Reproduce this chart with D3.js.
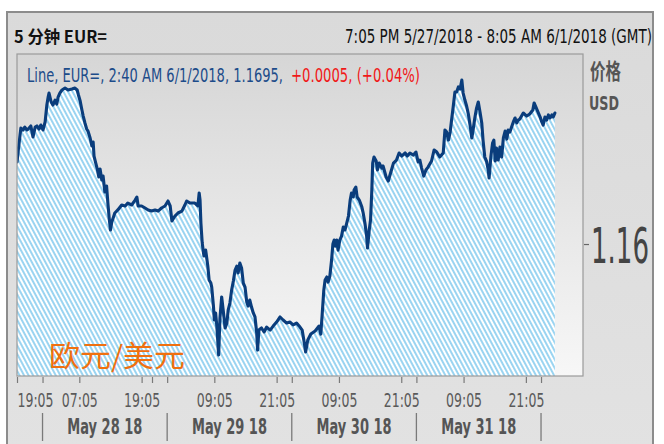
<!DOCTYPE html>
<html><head><meta charset="utf-8">
<script src="https://cdn.jsdelivr.net/npm/d3@7"></script>
<style>
html,body{margin:0;padding:0;background:#fff;}
svg{display:block;}
</style></head><body>
<svg id="c" width="664" height="444"></svg>
<script>
// ---------- data ----------
const startTime = "2018-05-27T19:05:00Z";
const endTime   = "2018-06-01T08:05:00Z";
const barMinutes = 5;
// 5-minute bar number since start
const barIndex = [0,3,7,9,14,18,23,28,32,37,
42,46,51,55,60,65,69,72,74,79,
83,88,92,95,99,104,111,118,127,134,
139,142,146,150,153,157,161,164,169,173,
176,178,182,186,189,192,196,199,203,207,
210,213,216,219,223,226,233,242,250,256,
265,273,277,280,288,296,303,311,319,326,
334,342,349,354,358,365,372,381,388,392,
400,411,418,421,423,425,428,432,436,441,
444,448,450,454,456,459,462,466,469,473,
477,481,485,488,492,496,500,504,508,511,
515,519,523,527,531,534,538,542,546,550,
554,556,559,565,571,577,585,592,600,608,
615,623,631,638,646,654,659,664,667,672,
679,689,698,702,705,709,712,716,719,723,
727,730,733,736,739,742,746,750,754,758,
762,766,770,773,777,779,783,786,791,797,
800,804,808,810,814,817,820,822,825,830,
833,837,843,846,853,858,864,870,877,883,
889,897,902,908,916,922,927,931,935,940,
945,950,958,964,970,977,985,989,993,997,
1001,1004,1008,1012,1016,1020,1024,1028,1031,1035,
1039,1043,1047,1051,1054,1058,1062,1066,1070,1074,
1077,1081,1085,1089,1091,1095,1099,1102,1105,1108,
1112,1116,1120,1124,1128,1132,1135,1139,1143,1147,
1151,1155,1158,1162,1166,1170,1178,1185,1192,1195,
1199,1205,1209,1212,1216,1220,1224,1228,1232,1236,
1239,1243];
const price = [1.16595,1.16682,1.16790,1.16841,1.16827,1.16848,1.16827,1.16841,1.16856,1.16776,
1.16848,1.16856,1.16834,1.16863,1.16827,1.16885,1.17008,1.17066,1.17095,1.17030,
1.17008,1.17044,1.17015,1.17066,1.17095,1.17117,1.17131,1.17117,1.17124,1.17131,
1.17117,1.17081,1.17037,1.16972,1.16928,1.16878,1.16834,1.16819,1.16769,1.16711,
1.16740,1.16638,1.16587,1.16537,1.16486,1.16544,1.16464,1.16493,1.16377,1.16421,
1.16297,1.16189,1.16102,1.16160,1.16196,1.16225,1.16247,1.16283,1.16276,1.16297,
1.16283,1.16319,1.16341,1.16276,1.16276,1.16261,1.16247,1.16239,1.16247,1.16239,
1.16261,1.16276,1.16312,1.16276,1.16167,1.16203,1.16225,1.16239,1.16283,1.16312,
1.16297,1.16297,1.16276,1.16370,1.16319,1.16152,1.16007,1.15913,1.15956,1.15840,
1.15739,1.15717,1.15688,1.15550,1.15449,1.15500,1.15398,1.15195,1.15463,1.15616,
1.15507,1.15391,1.15427,1.15521,1.15572,1.15666,1.15732,1.15811,1.15840,1.15790,
1.15862,1.15826,1.15717,1.15688,1.15579,1.15550,1.15594,1.15543,1.15500,1.15471,
1.15355,1.15231,1.15376,1.15391,1.15362,1.15398,1.15376,1.15405,1.15434,1.15471,
1.15449,1.15427,1.15434,1.15413,1.15427,1.15398,1.15376,1.15282,1.15217,1.15304,
1.15347,1.15369,1.15405,1.15347,1.15478,1.15666,1.15739,1.15761,1.15724,1.15768,
1.15884,1.16000,1.16029,1.15985,1.16029,1.15956,1.16029,1.16058,1.16123,1.16102,
1.16152,1.16203,1.16319,1.16370,1.16341,1.16392,1.16413,1.16341,1.16319,1.16268,
1.16225,1.16152,1.16058,1.15971,1.16102,1.16174,1.16392,1.16587,1.16631,1.16602,
1.16537,1.16587,1.16551,1.16566,1.16486,1.16457,1.16522,1.16587,1.16609,1.16660,
1.16638,1.16660,1.16638,1.16660,1.16645,1.16667,1.16595,1.16609,1.16551,1.16493,
1.16537,1.16558,1.16602,1.16682,1.16667,1.16631,1.16660,1.16827,1.16812,1.16754,
1.16812,1.16892,1.16994,1.17102,1.17102,1.17139,1.17124,1.17189,1.17095,1.17044,
1.17001,1.16943,1.16863,1.16769,1.16827,1.16914,1.16986,1.17030,1.16957,1.16878,
1.16754,1.16631,1.16602,1.16537,1.16479,1.16631,1.16732,1.16754,1.16602,1.16696,
1.16609,1.16703,1.16631,1.16769,1.16819,1.16761,1.16827,1.16812,1.16848,1.16885,
1.16914,1.16878,1.16899,1.16906,1.16928,1.16950,1.16928,1.16943,1.16972,1.17023,
1.16994,1.16950,1.16921,1.16892,1.16863,1.16921,1.16899,1.16936,1.16914,1.16936,
1.16921,1.16950];

const hourTicks = ["2018-05-27T19:05Z","2018-05-28T07:05Z","2018-05-28T19:05Z","2018-05-28T21:05Z",
  "2018-05-29T09:05Z","2018-05-29T21:05Z","2018-05-30T09:05Z","2018-05-30T21:05Z",
  "2018-05-31T09:05Z","2018-05-31T21:05Z"];
const hourTickLabels = ["19:05","07:05","19:05","","09:05","21:05","09:05","21:05","09:05","21:05"];
const dayBreaks = ["2018-05-28T00:00Z","2018-05-29T00:00Z","2018-05-30T00:00Z","2018-05-31T00:00Z","2018-06-01T00:00Z"];
const dayLabels = ["May 28 18","May 29 18","May 30 18","May 31 18"];
const yTicks = [1.16];
const yTickLabels = ["1.16"];
const yDomain = [1.15043, 1.17378];

const headerLeft = "5 分钟 EUR=";
const headerRight = "7:05 PM 5/27/2018 - 8:05 AM 6/1/2018 (GMT)";
const legendMain = "Line, EUR=, 2:40 AM 6/1/2018, 1.1695,";
const legendChange = "+0.0005, (+0.04%)";
const unitLines = ["价格", "USD"];
const pairName = "欧元/美元";

// ---------- layout ----------
const W = 664, H = 444;
const plot = {l:17, t:54, r:583, b:376};
const narrow = "'Liberation Sans Narrow','DejaVu Sans Condensed','Liberation Sans',Arial,sans-serif";
const cjk = "'Noto Sans CJK SC','Liberation Sans',sans-serif";

const svg = d3.select("#c");
const defs = svg.append("defs");

const pg = defs.append("linearGradient").attr("id","panelGrad").attr("x1",0).attr("y1",0).attr("x2",0).attr("y2",1);
pg.append("stop").attr("offset","0%").attr("stop-color","#dadada");
pg.append("stop").attr("offset","100%").attr("stop-color","#e2e2e2");

const bg = defs.append("linearGradient").attr("id","plotGrad").attr("x1",0).attr("y1",0).attr("x2",0).attr("y2",1);
bg.append("stop").attr("offset","0%").attr("stop-color","#d6d6d6");
bg.append("stop").attr("offset","100%").attr("stop-color","#f7f7f7");

const hatch = defs.append("pattern").attr("id","hatch").attr("patternUnits","userSpaceOnUse")
  .attr("width",4).attr("height",4).attr("patternTransform","rotate(-28)");
hatch.append("rect").attr("width",4).attr("height",4).attr("fill","#ffffff");
hatch.append("rect").attr("x",0).attr("width",2).attr("height",4).attr("fill","#9ad4f1");

defs.append("clipPath").attr("id","clip").append("rect")
  .attr("x",plot.l).attr("y",plot.t).attr("width",plot.r-plot.l).attr("height",plot.b-plot.t);

// panel
svg.append("rect").attr("x",7).attr("y",12).attr("width",646).attr("height",440)
  .attr("fill","url(#panelGrad)").attr("stroke","#8c8c8c").attr("stroke-width",2);

// header
svg.append("text").attr("x",14).attr("y",43).attr("font-family",cjk).attr("font-weight","bold")
  .attr("font-size",17).attr("fill","#111").attr("textLength",93).attr("lengthAdjust","spacingAndGlyphs")
  .text(headerLeft);
svg.append("text").attr("x",345).attr("y",43).attr("font-family",narrow)
  .attr("font-size",19).attr("fill","#111").attr("textLength",307).attr("lengthAdjust","spacingAndGlyphs")
  .text(headerRight);

// plot background
svg.append("rect").attr("x",plot.l).attr("y",plot.t).attr("width",plot.r-plot.l).attr("height",plot.b-plot.t)
  .attr("fill","url(#plotGrad)");

// scales
const parse = s => new Date(s);
const t0 = parse(startTime), t1 = parse(endTime);
const x = d3.scaleUtc().domain([t0,t1]).range([plot.l, plot.r]);
const y = d3.scaleLinear().domain(yDomain).range([plot.b, plot.t]);

const n = Math.min(barIndex.length, price.length);
const data = d3.range(n).map(i => ({t: d3.utcMinute.offset(t0, barIndex[i]*barMinutes), v: price[i]}));

const gPlot = svg.append("g").attr("clip-path","url(#clip)");
gPlot.append("path").datum(data)
  .attr("d", d3.area().x(d=>x(d.t)).y0(plot.b).y1(d=>y(d.v)))
  .attr("fill","url(#hatch)");
gPlot.append("path").datum(data)
  .attr("d", d3.line().x(d=>x(d.t)).y(d=>y(d.v)))
  .attr("fill","none").attr("stroke","#0a3d7c").attr("stroke-width",3.1)
  .attr("stroke-linejoin","round").attr("stroke-linecap","round");

// plot border
svg.append("rect").attr("x",plot.l).attr("y",plot.t).attr("width",plot.r-plot.l).attr("height",plot.b-plot.t)
  .attr("fill","none").attr("stroke","#9a9a9a").attr("stroke-width",1.2);

// legend
svg.append("text").attr("x",27).attr("y",82).attr("font-family",narrow).attr("font-size",20)
  .attr("fill","#1d4c8a").attr("textLength",256).attr("lengthAdjust","spacingAndGlyphs").text(legendMain);
svg.append("text").attr("x",291).attr("y",82).attr("font-family",narrow).attr("font-size",20)
  .attr("fill","#f01818").attr("textLength",129).attr("lengthAdjust","spacingAndGlyphs").text(legendChange);

// pair name
svg.append("text").attr("x",49).attr("y",367).attr("font-family",cjk).attr("font-size",29)
  .attr("fill","#f0700f").attr("textLength",136).attr("lengthAdjust","spacingAndGlyphs").text(pairName);

// x axis (hour ticks + day ticks)
const hourDates = hourTicks.map(parse);
const dayDates = dayBreaks.map(parse);
const allTicks = hourDates.concat(dayDates);
const labelMap = new Map(hourDates.map((d,i)=>[+d, hourTickLabels[i]]));
const gx = svg.append("g").attr("transform",`translate(0,${plot.b+1})`)
  .call(d3.axisBottom(x).tickValues(allTicks).tickSize(6).tickSizeOuter(0)
    .tickFormat(d => labelMap.get(+d) || ""));
gx.select(".domain").remove();
gx.selectAll(".tick line").attr("stroke","#7a7a7a").attr("stroke-width",1.2);
gx.selectAll(".tick text").each(function(d){
  const s = labelMap.get(+d) || "";
  const t = d3.select(this);
  if(!s){ t.remove(); return; }
  t.attr("y", 30).attr("dy", 0).attr("font-family", narrow).attr("font-size", 20)
   .attr("fill","#5a5a5a").attr("textLength",36).attr("lengthAdjust","spacingAndGlyphs")
   .attr("text-anchor", (+d === +t0) ? "start" : "middle");
});

// day separators & labels
svg.append("g").selectAll("line").data(dayDates).join("line")
  .attr("x1",d=>x(d)).attr("x2",d=>x(d)).attr("y1",413).attr("y2",441)
  .attr("stroke","#7a7a7a").attr("stroke-width",1.3);
svg.append("g").selectAll("text").data(dayLabels).join("text")
  .attr("x",(d,i)=> (x(dayDates[i]) + x(dayDates[i+1]))/2).attr("y",434)
  .attr("text-anchor","middle").attr("font-family",narrow).attr("font-weight","bold")
  .attr("font-size",21).attr("fill","#555").attr("textLength",75).attr("lengthAdjust","spacingAndGlyphs")
  .text(d=>d);

// y axis
const gy = svg.append("g").attr("transform",`translate(${plot.r+1},0)`)
  .call(d3.axisRight(y).tickValues(yTicks).tickSize(5).tickFormat((d,i)=>yTickLabels[i]));
gy.select(".domain").remove();
gy.selectAll(".tick line").attr("stroke","#666").attr("stroke-width",1.2);
gy.selectAll(".tick text").attr("x",7).attr("dy","0.36em").attr("font-family",narrow).attr("font-size",50)
  .attr("fill","#444").attr("text-anchor","start").attr("textLength",58).attr("lengthAdjust","spacingAndGlyphs");

// unit labels
svg.append("text").attr("x",590).attr("y",79).attr("font-family",cjk).attr("font-weight","bold")
  .attr("font-size",22).attr("fill","#555").attr("textLength",31).attr("lengthAdjust","spacingAndGlyphs").text(unitLines[0]);
svg.append("text").attr("x",589).attr("y",110).attr("font-family",narrow).attr("font-weight","bold")
  .attr("font-size",20).attr("fill","#555").attr("textLength",30).attr("lengthAdjust","spacingAndGlyphs").text(unitLines[1]);
</script>
</body></html>
